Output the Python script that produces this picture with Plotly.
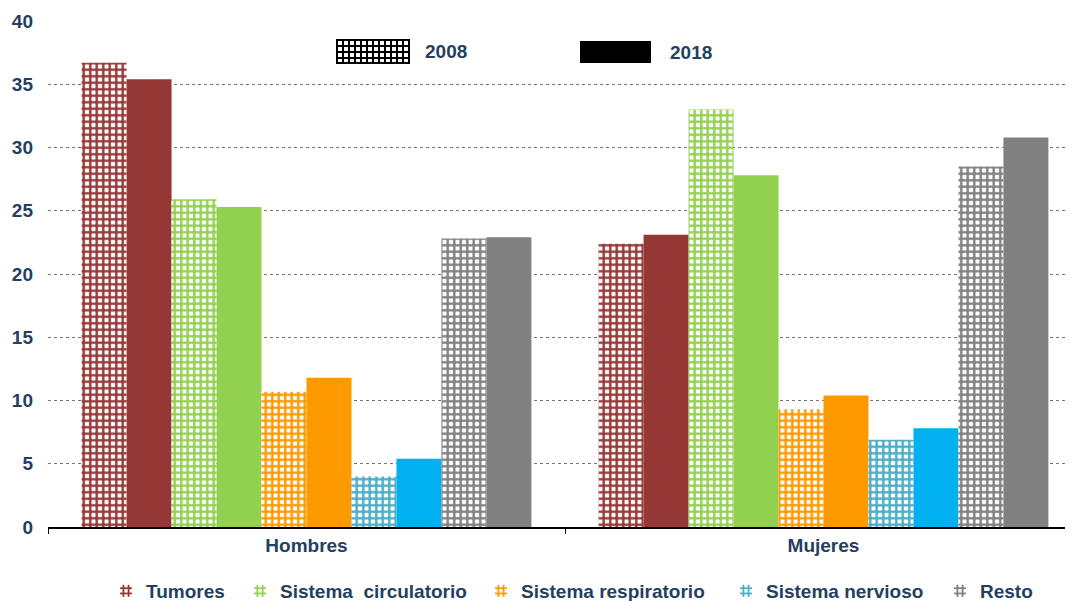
import plotly.graph_objects as go

groups = ["Hombres", "Mujeres"]
causes = ["Tumores", "Sistema\u00a0 circulatorio", "Sistema respiratorio", "Sistema nervioso", "Resto"]
years = ["2008", "2018"]
vals_2008 = {
    "Tumores": [36.7, 22.4],
    "Sistema\u00a0 circulatorio": [25.9, 33.0],
    "Sistema respiratorio": [10.7, 9.3],
    "Sistema nervioso": [4.0, 6.9],
    "Resto": [22.8, 28.5],
}
vals_2018 = {
    "Tumores": [35.4, 23.1],
    "Sistema\u00a0 circulatorio": [25.3, 27.8],
    "Sistema respiratorio": [11.8, 10.4],
    "Sistema nervioso": [5.4, 7.8],
    "Resto": [22.9, 30.8],
}
yticks = [0, 5, 10, 15, 20, 25, 30, 35, 40]

col_2008 = {
    "Tumores": "#953735",
    "Sistema\u00a0 circulatorio": "#92D050",
    "Sistema respiratorio": "#FF9900",
    "Sistema nervioso": "#4BACC6",
    "Resto": "#808080",
}
col_2018 = {
    "Tumores": "#953735",
    "Sistema\u00a0 circulatorio": "#92D050",
    "Sistema respiratorio": "#FF9900",
    "Sistema nervioso": "#00B0F0",
    "Resto": "#808080",
}
# legend entry widths (px) so that entries are spaced like the reference
legend_w = {
    "Tumores": 89,
    "Sistema\u00a0 circulatorio": 196,
    "Sistema respiratorio": 200,
    "Sistema nervioso": 169,
    "Resto": 55,
}

TXT = "#243F60"
FONT = "Liberation Sans, Arial, sans-serif"
FS = 19

fig = go.Figure()
for c in causes:
    fig.add_trace(go.Bar(
        x=groups, y=vals_2008[c], name=c, legendgroup=c, showlegend=True,
        legendwidth=legend_w[c],
        marker=dict(color="white", line=dict(width=0),
                    pattern=dict(shape="+", fgcolor=col_2008[c], bgcolor="white", fgopacity=1,
                                 size=6.5, solidity=0.6, fillmode="replace")),
        hoverinfo="y+name",
    ))
    fig.add_trace(go.Bar(
        x=groups, y=vals_2018[c], name=c + " 2018", legendgroup=c, showlegend=False,
        marker=dict(color=col_2018[c], line=dict(width=0)),
        hoverinfo="y+name",
    ))

# page has an 8px body margin: figure origin sits at screen (8, 8)
OFF = 8
SW, SH = 1073, 601
W, H = SW - OFF, SH - OFF
# plot area in screen px: x 48..1073, y 21..527
L, T = 48 - OFF, 21 - OFF
B = H - (527 - OFF)
pw, ph = W - L, H - T - B

def px(xs):
    return (xs - OFF - L) / pw

def py(ys):
    return (H - B - (ys - OFF)) / ph

shapes = []
# 2008 patterned swatch
x0, x1, y0, y1 = 337, 409, 40, 63
shapes.append(dict(type="rect", xref="paper", yref="paper", x0=px(x0), x1=px(x1), y0=py(y1), y1=py(y0),
                   fillcolor="white", line=dict(color="black", width=2)))
xx = x0
while xx <= x1:
    shapes.append(dict(type="line", xref="paper", yref="paper", x0=px(xx), x1=px(xx), y0=py(y1), y1=py(y0),
                       line=dict(color="black", width=2)))
    xx += 6
yy = y0
while yy <= y1:
    shapes.append(dict(type="line", xref="paper", yref="paper", x0=px(x0), x1=px(x1), y0=py(yy), y1=py(yy),
                       line=dict(color="black", width=2)))
    yy += 6
# 2018 solid swatch
shapes.append(dict(type="rect", xref="paper", yref="paper", x0=px(580), x1=px(651), y0=py(63), y1=py(41),
                   fillcolor="black", line=dict(color="black", width=0)))

annotations = [
    dict(text=years[0], xref="paper", yref="paper", x=px(423), y=py(52), xanchor="left", yanchor="middle",
         showarrow=False, font=dict(family=FONT, size=FS, color=TXT, weight="bold")),
    dict(text=years[1], xref="paper", yref="paper", x=px(668), y=py(53), xanchor="left", yanchor="middle",
         showarrow=False, font=dict(family=FONT, size=FS, color=TXT, weight="bold")),
]

fig.update_layout(
    width=W, height=H,
    margin=dict(l=L, r=0, t=T, b=B, pad=0, autoexpand=False),
    paper_bgcolor="white", plot_bgcolor="white",
    barmode="group", bargap=0.13, bargroupgap=0,
    font=dict(family=FONT, size=FS, color=TXT, weight="bold"),
    shapes=shapes, annotations=annotations,
    legend=dict(orientation="h", x=px(106), xanchor="left", y=py(591), yanchor="middle",
                font=dict(family=FONT, size=FS, color=TXT, weight="bold"),
                itemwidth=30, traceorder="normal", tracegroupgap=0),
    xaxis=dict(range=[-0.5, -0.5 + pw / 517.0], showgrid=False, showline=True, linecolor="black", linewidth=1.5,
               ticks="outside", tickson="boundaries", ticklen=5, tickcolor="black", tickwidth=1,
               automargin=False,
               tickfont=dict(family=FONT, size=FS, color=TXT, weight="bold")),
    yaxis=dict(range=[0, 40], tickvals=yticks, showgrid=True, gridcolor="#777777", griddash="dot", gridwidth=1,
               showline=False, zeroline=False, ticks="", ticklabelstandoff=14, automargin=False,
               tickfont=dict(family=FONT, size=FS, color=TXT, weight="bold")),
)

fig.write_html("out.html")
